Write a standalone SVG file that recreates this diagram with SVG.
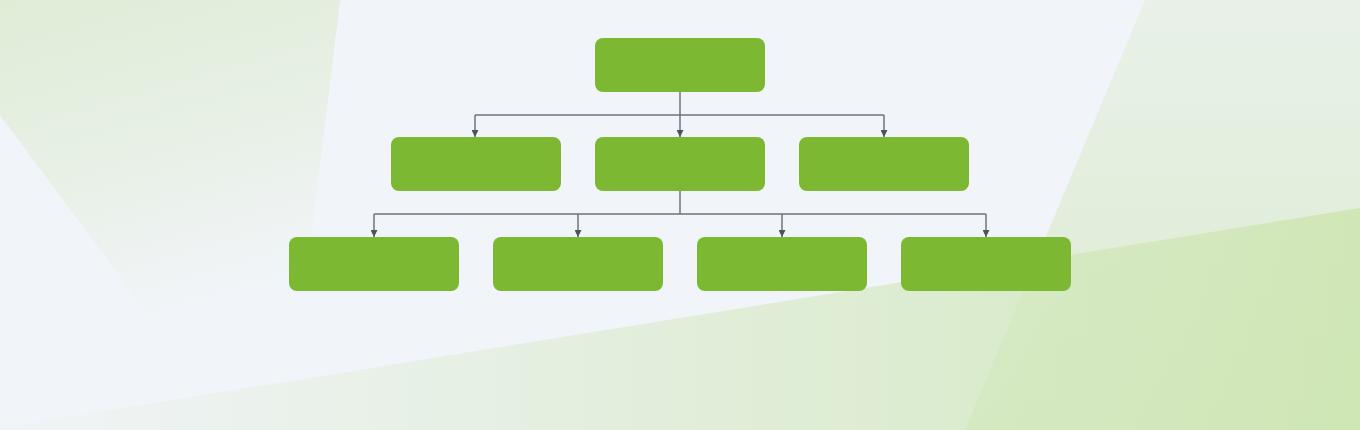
<svg xmlns="http://www.w3.org/2000/svg" width="1360" height="430" viewBox="0 0 1360 430">
  <defs>
    <linearGradient id="gLeft" x1="0" y1="0" x2="0.3" y2="1">
      <stop offset="0" stop-color="#d9eacb" stop-opacity="0.75"/>
      <stop offset="0.6" stop-color="#dcebcf" stop-opacity="0.4"/>
      <stop offset="1" stop-color="#e0eed5" stop-opacity="0"/>
    </linearGradient>
    <linearGradient id="gRight" x1="0" y1="0" x2="0" y2="1">
      <stop offset="0" stop-color="#dcecd0" stop-opacity="0.4"/>
      <stop offset="1" stop-color="#d3e8bf" stop-opacity="0.75"/>
    </linearGradient>
    <linearGradient id="gBottom" x1="0" y1="0" x2="1" y2="0">
      <stop offset="0" stop-color="#dcecd0" stop-opacity="0.05"/>
      <stop offset="0.5" stop-color="#d6eac6" stop-opacity="0.6"/>
      <stop offset="1" stop-color="#cde5b0" stop-opacity="0.85"/>
    </linearGradient>
    <marker id="arr" viewBox="0 0 10 10" refX="10" refY="5" markerWidth="7" markerHeight="7" markerUnits="userSpaceOnUse" orient="auto">
      <path d="M0,0 L10,5 L0,10 Z" fill="#4d5260"/>
    </marker>
  </defs>
  <style>
    .node rect { fill: #7cb832; }
    .conn { fill: none; stroke: #6e7382; stroke-width: 1.5; }
    .arrow { marker-end: url(#arr); }
  </style>

  <g id="background">
    <rect x="0" y="0" width="1360" height="430" fill="#f1f4f8"/>
    <polygon points="0,0 340,0 300,330 160,330 0,115" fill="url(#gLeft)"/>
    <polygon points="1145,0 1360,0 1360,430 965,430" fill="url(#gRight)"/>
    <polygon points="0,428 1360,208 1360,430 0,430" fill="url(#gBottom)"/>
  </g>

  <g id="connectors">
    <path class="conn arrow" d="M680,92 V137"/>
    <path class="conn" d="M475,115 H884"/>
    <path class="conn arrow" d="M475,115 V137"/>
    <path class="conn arrow" d="M884,115 V137"/>
    <path class="conn" d="M680,191 V214"/>
    <path class="conn" d="M374,214 H986"/>
    <path class="conn arrow" d="M374,214 V237"/>
    <path class="conn arrow" d="M578,214 V237"/>
    <path class="conn arrow" d="M782,214 V237"/>
    <path class="conn arrow" d="M986,214 V237"/>
  </g>

  <g id="node-root" class="node"><rect x="595" y="38" width="170" height="54" rx="8"/></g>
  <g id="node-m1" class="node"><rect x="391" y="137" width="170" height="54" rx="8"/></g>
  <g id="node-m2" class="node"><rect x="595" y="137" width="170" height="54" rx="8"/></g>
  <g id="node-m3" class="node"><rect x="799" y="137" width="170" height="54" rx="8"/></g>
  <g id="node-b1" class="node"><rect x="289" y="237" width="170" height="54" rx="8"/></g>
  <g id="node-b2" class="node"><rect x="493" y="237" width="170" height="54" rx="8"/></g>
  <g id="node-b3" class="node"><rect x="697" y="237" width="170" height="54" rx="8"/></g>
  <g id="node-b4" class="node"><rect x="901" y="237" width="170" height="54" rx="8"/></g>
</svg>
